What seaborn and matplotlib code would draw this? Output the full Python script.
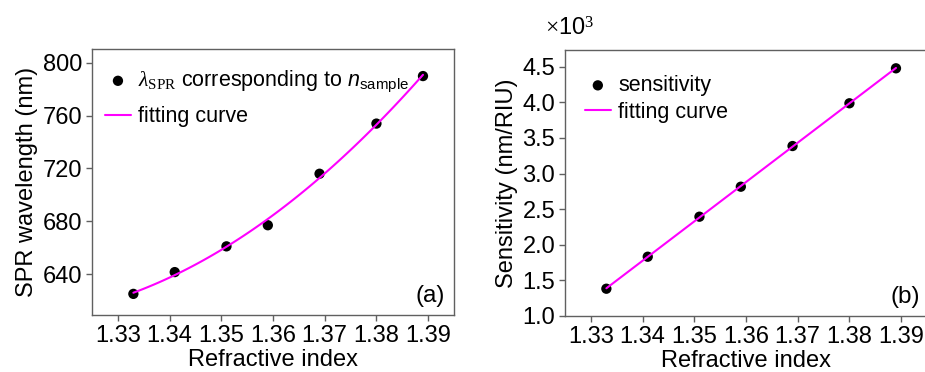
import numpy as np
import pandas as pd
import matplotlib
matplotlib.use("Agg")
import matplotlib.pyplot as plt
import seaborn as sns

# ---- data ----
n_sample = [1.333, 1.341, 1.351, 1.359, 1.369, 1.380, 1.389]
spr_wavelength = [625.0, 641.5, 661.0, 677.0, 716.0, 754.0, 790.0]
sensitivity = [1383, 1832, 2394, 2815, 3386, 3986, 4477]
x_ticks = [1.33, 1.34, 1.35, 1.36, 1.37, 1.38, 1.39]
a_yticks = [640, 680, 720, 760, 800]
b_yticks = [1.0, 1.5, 2.0, 2.5, 3.0, 3.5, 4.0, 4.5]

sns.set_style("ticks")
plt.rcParams["font.family"] = ["Liberation Sans", "DejaVu Sans"]
plt.rcParams["text.color"] = "black"
plt.rcParams["axes.labelcolor"] = "black"
plt.rcParams["xtick.color"] = "black"
plt.rcParams["ytick.color"] = "black"
plt.rcParams["mathtext.fontset"] = "custom"
plt.rcParams["mathtext.rm"] = "Liberation Serif"
plt.rcParams["mathtext.it"] = "Liberation Serif:italic"
plt.rcParams["mathtext.sf"] = "Liberation Sans"
plt.rcParams["mathtext.cal"] = "Liberation Sans:italic"

df = pd.DataFrame({"n": n_sample, "wl": spr_wavelength,
                   "S": np.array(sensitivity) / 1000.0})

fig = plt.figure(figsize=(9.25, 3.72), dpi=100)
axa = fig.add_axes([92/925, 1-315/372, (454-92)/925, (315-49)/372])
axb = fig.add_axes([565/925, 1-316/372, (927-565)/925, (316-50)/372])

MAG = "#ff00ff"
SP = "#606060"
TFS = 17
LFS = 17

def style(ax):
    for s in ax.spines.values():
        s.set_color(SP)
        s.set_linewidth(1.0)
        s.set_visible(True)
    ax.set_xlim(1.325, 1.395)
    ax.set_xticks(x_ticks)
    ax.set_xticklabels([f"{v:.2f}" for v in x_ticks], fontsize=TFS)
    ax.tick_params(direction="out", length=4, width=1, color=SP,
                   labelsize=TFS, labelcolor="black", pad=3)
    ax.set_xlabel("Refractive index", fontsize=LFS, labelpad=1.5)

lab_a = r"$\lambda_{\mathrm{SPR}}$ corresponding to $\mathcal{n}_{\mathsf{sample}}$"

# panel (a)
sns.scatterplot(data=df, x="n", y="wl", ax=axa, color="black", s=55,
                edgecolor="none", zorder=2, legend=False)
pts_a = axa.collections[-1]
sns.regplot(data=df, x="n", y="wl", ax=axa, scatter=False, order=2, ci=None,
            color=MAG, line_kws={"lw": 1.5, "zorder": 3})
line_a = axa.lines[-1]
style(axa)
axa.set_ylim(609, 810.5)
axa.set_yticks(a_yticks)
axa.set_yticklabels([str(v) for v in a_yticks], fontsize=TFS)
axa.set_ylabel("SPR wavelength (nm)", fontsize=LFS, labelpad=3)
axa.legend([pts_a, line_a], [lab_a, "fitting curve"], loc="upper left",
           bbox_to_anchor=(0.036, 0.925), frameon=False, fontsize=15.5,
           borderpad=0, borderaxespad=0, handlelength=1.2,
           handletextpad=0.35, labelspacing=0.54, numpoints=1, scatterpoints=1)
axa.text(0.975, 0.03, "(a)", transform=axa.transAxes, ha="right", va="bottom",
         fontsize=17.5)

# panel (b)
sns.scatterplot(data=df, x="n", y="S", ax=axb, color="black", s=55,
                edgecolor="none", zorder=2, legend=False)
pts_b = axb.collections[-1]
sns.regplot(data=df, x="n", y="S", ax=axb, scatter=False, order=1, ci=None,
            color=MAG, line_kws={"lw": 1.5, "zorder": 3})
line_b = axb.lines[-1]
style(axb)
axb.set_ylim(1.0, 4.734)
axb.set_yticks(b_yticks)
axb.set_yticklabels([f"{v:.1f}" for v in b_yticks], fontsize=TFS)
axb.set_ylabel("Sensitivity (nm/RIU)", fontsize=LFS, labelpad=3)
axb.legend([pts_b, line_b], ["sensitivity", "fitting curve"], loc="upper left",
           bbox_to_anchor=(0.055, 0.906), frameon=False, fontsize=15.5,
           borderpad=0, borderaxespad=0, handlelength=1.2,
           handletextpad=0.35, labelspacing=0.28, numpoints=1, scatterpoints=1)
axb.text(0.985 * 360 / 362, 0.03, "(b)", transform=axb.transAxes, ha="right",
         va="bottom", fontsize=17.5)
fig.text(545/925, 1-35/372, r"$\times$10$^{3}$", fontsize=17, ha="left",
         va="baseline")

fig.savefig("out.png", dpi=100)
